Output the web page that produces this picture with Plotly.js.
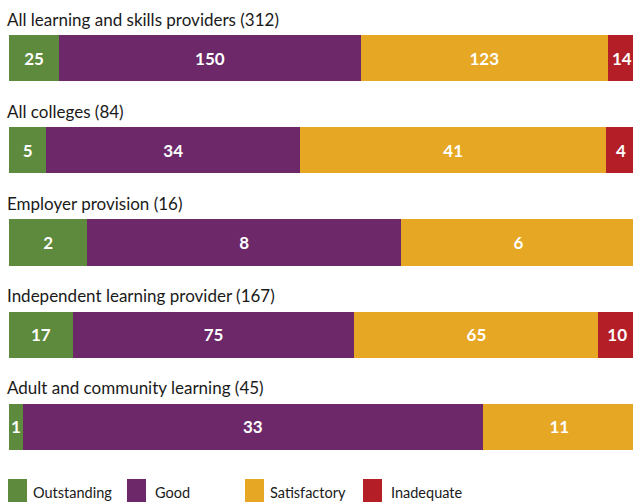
<!DOCTYPE html>
<html>
<head>
<meta charset="utf-8">
<script src="https://cdn.plot.ly/plotly-3.0.1.min.js"></script>
<style>html,body{margin:0;padding:0;background:#fff;overflow:hidden;width:633px;height:504px;}#chart{width:637px;height:504px;}</style>
</head>
<body>
<div id="chart"></div>
<script>
const categories = ['All learning and skills providers (312)', 'All colleges (84)', 'Employer provision (16)', 'Independent learning provider (167)', 'Adult and community learning (45)'];
const seriesNames = ['Outstanding', 'Good', 'Satisfactory', 'Inadequate'];
const outstanding = [25, 5, 2, 17, 1];
const good = [150, 34, 8, 75, 33];
const satisfactory = [123, 41, 6, 65, 11];
const inadequate = [14, 4, 0, 10, 0];
const colors = ['#5d8a3d', '#6c2868', '#e6a724', '#b41f27'];

const FONT = 'Lato, "Noto Sans", sans-serif';
// the figure is slightly wider than the 633px window: bars run a few pixels past the right edge
const W = 637, H = 504, ML = 9, MR = 1, MT = 12, MB = 31;
const PW = W - ML - MR, PH = H - MT - MB;
const px = x => (x - ML) / PW;
const py = y => (H - MB - y) / PH;

const series = [outstanding, good, satisfactory, inadequate];
const traces = series.map((vals, i) => ({
  type: 'bar',
  orientation: 'h',
  name: seriesNames[i],
  y: categories,
  x: vals,
  text: vals.map(v => v > 0 ? String(v) : ''),
  textposition: 'inside',
  insidetextanchor: 'middle',
  constraintext: 'none',
  textangle: 0,
  textfont: {family: FONT, size: 17, color: '#ffffff', weight: 'bold'},
  marker: {color: colors[i], line: {width: 0}},
  hoverinfo: 'skip',
  showlegend: false
}));

const annotations = categories.map(c => ({
  xref: 'paper', yref: 'y', x: px(5), y: c,
  xanchor: 'left', yanchor: 'middle', yshift: 39,
  text: c, showarrow: false,
  font: {family: FONT, size: 17, color: '#1a1a1a'}
}));

const legendSquareX = [8, 127, 245, 363];
const legendTextX = [31, 153, 268, 389];
const shapes = [];
seriesNames.forEach((n, i) => {
  shapes.push({
    type: 'rect', xref: 'paper', yref: 'paper',
    x0: px(legendSquareX[i]), x1: px(legendSquareX[i] + 19),
    y0: py(479), y1: py(502),
    fillcolor: colors[i], line: {width: 0}
  });
  annotations.push({
    xref: 'paper', yref: 'paper', x: px(legendTextX[i]), y: py(493),
    xanchor: 'left', yanchor: 'middle', text: n, showarrow: false,
    font: {family: FONT, size: 14.5, color: '#1a1a1a'}
  });
});

const layout = {
  width: W, height: H,
  margin: {l: ML, r: MR, t: MT, b: MB, pad: 0},
  barmode: 'stack',
  barnorm: 'percent',
  bargap: 0.5,
  paper_bgcolor: '#ffffff',
  plot_bgcolor: '#ffffff',
  xaxis: {range: [0, 100], visible: false, fixedrange: true},
  yaxis: {type: 'category', range: [4.5, -0.5], visible: false, fixedrange: true},
  showlegend: false,
  annotations: annotations,
  shapes: shapes
};

Plotly.newPlot('chart', traces, layout, {displayModeBar: false, staticPlot: true});
</script>
</body>
</html>
